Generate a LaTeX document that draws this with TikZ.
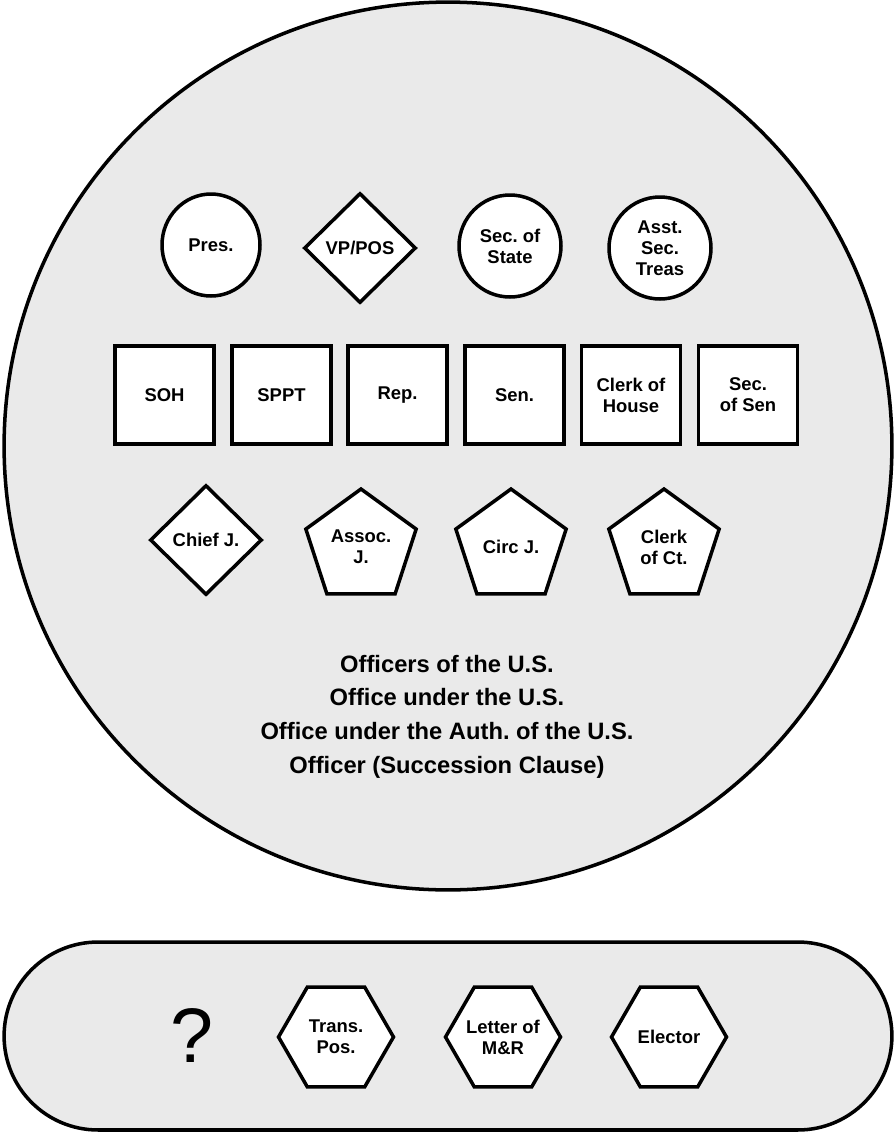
\documentclass[tikz,border=0pt]{standalone}
\usepackage{fontspec}
\setmainfont{Liberation Sans}
\frenchspacing
\usepackage{tikz}
\usetikzlibrary{shapes.geometric,positioning}
\definecolor{panelgray}{HTML}{EAEAEA}

\begin{document}
\begin{tikzpicture}[x=0.02cm, y=-0.02cm, line width=2pt,
  office/.style={draw, fill=white, inner sep=0pt, align=center,
    font=\fontsize{10.5}{12}\selectfont\bfseries},
  officeround/.style={office, ellipse, minimum width=2.04cm, minimum height=2.04cm},
  officebox/.style={office, rectangle, minimum width=1.98cm, minimum height=1.97cm},
  officediam/.style={office, diamond, minimum width=2.24cm, minimum height=2.2cm},
  officepent/.style={office, regular polygon, regular polygon sides=5, minimum size=2.32cm, inner sep=-6pt},
  officehex/.style={office, regular polygon, regular polygon sides=6, minimum size=2.3cm, inner sep=-6pt}]
  \useasboundingbox (0,0) rectangle (896,1133);
  % outer panels
  \node[draw, fill=panelgray, circle, minimum size=17.76cm, inner sep=0pt] (officers) at (448,446) {};
  \node[draw, fill=panelgray, rectangle, rounded corners=1.88cm, minimum width=17.76cm,
    minimum height=3.76cm] (others) at (448,1036) {};
  % top row
  \node[officeround, minimum width=1.96cm] (pres) at (211,245) {Pres.};
  \node[officediam] (vp) at (360,248) {VP/POS};
  \node[officeround] (secstate) at (510,246) {Sec. of\\State};
  \node[officeround] (asst) at (660,248) {Asst.\\Sec.\\Treas};
  % middle row
  \node[officebox] (soh) at (164.5,395) {SOH};
  \node[officebox] (sppt) at (281.5,395) {SPPT};
  \node[officebox] (rep) at (397.5,395) {Rep.};
  \node[officebox] (sen) at (514.5,395) {Sen.};
  \node[officebox] (clerkhouse) at (631,395) {Clerk of\\House};
  \node[officebox] (secsen) at (748,395) {Sec.\\of Sen};
  % bottom row
  \node[officediam] (chief) at (206,540) {Chief J.};
  \node[officepent] (assoc) at (361,547) {Assoc.\\J.};
  \node[officepent] (circ) at (511,547) {Circ J.};
  \node[officepent] (clerkct) at (664,547) {Clerk\\of Ct.};
  % categories
  \node[align=center, font=\fontsize{13.5}{19.2}\selectfont\bfseries] (terms) at (447,716.5)
    {Officers of the U.S.\\Office under the U.S.\\Office under the Auth. of the U.S.\\Officer (Succession Clause)};
  % lower panel
  \node[font=\fontsize{44}{44}\selectfont] (unknown) at (192,1035) {?};
  \node[officehex] (trans) at (336,1037) {Trans.\\Pos.};
  \node[officehex] (letter) at (503,1037) {Letter of\\M\&R};
  \node[officehex] (elector) at (669,1037) {Elector};
\end{tikzpicture}
\end{document}
